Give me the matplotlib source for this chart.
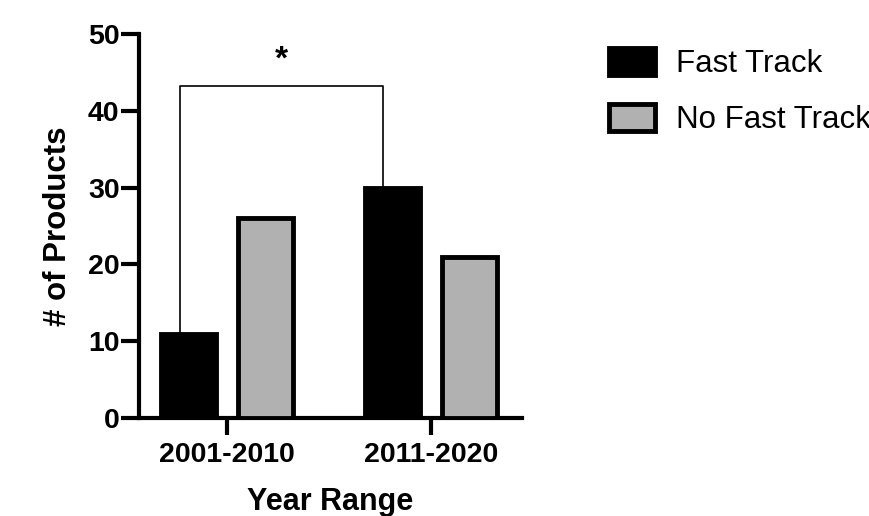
import matplotlib.pyplot as plt
import numpy as np

plt.rcParams["font.family"] = ["Liberation Sans", "DejaVu Sans"]

groups = ["2001-2010", "2011-2020"]
fast_track = [11, 30]
no_fast_track = [26, 21]
yticks = [0, 10, 20, 30, 40, 50]

fig = plt.figure(figsize=(8.7, 5.16), dpi=100)
ax = fig.add_axes([139 / 870, 98 / 516, 383 / 870, 384 / 516])

x = np.arange(len(groups))
w = 0.27
off = 0.1875
ax.bar(x - off, fast_track, w, color="black", edgecolor="black", linewidth=3.5,
       label="Fast Track", zorder=3)
ax.bar(x + off, no_fast_track, w, color="#b1b1b1", edgecolor="black", linewidth=3.5,
       label="No Fast Track", zorder=3)

# significance bracket
bx = [x[0] - 0.23, x[1] - 0.235]
ax.plot([bx[0], bx[0], bx[1], bx[1]], [fast_track[0], 43.2, 43.2, fast_track[1]],
        color="black", lw=1.2, zorder=2, clip_on=False)
ax.text((bx[0] + bx[1]) / 2, 44.6, "*", ha="center", va="bottom", fontsize=24,
        fontweight="bold")

ax.set_xlim(-0.43, 1.445)
ax.set_ylim(0, 50)
ax.set_yticks(yticks)
ax.set_xticks(x)
ax.set_xticklabels(groups)
for s in ["top", "right"]:
    ax.spines[s].set_visible(False)
for s in ["left", "bottom"]:
    ax.spines[s].set_linewidth(3)
ax.tick_params(axis="y", width=3, length=13, labelsize=20.5, pad=1)
ax.tick_params(axis="x", width=3, length=12, labelsize=20.5, pad=5)
for lab in ax.get_xticklabels() + ax.get_yticklabels():
    lab.set_fontweight("bold")

ax.set_ylabel("# of Products", fontsize=22.5, fontweight="bold", labelpad=11)
ax.set_xlabel("Year Range", fontsize=22, fontweight="bold", labelpad=14)

leg = fig.legend(loc="upper left", bbox_to_anchor=(0.668, 0.962), frameon=False,
                 fontsize=22.5, handlelength=1.45, handleheight=0.95, labelspacing=0.8,
                 handletextpad=0.7)

fig.savefig("out.png", dpi=100)
